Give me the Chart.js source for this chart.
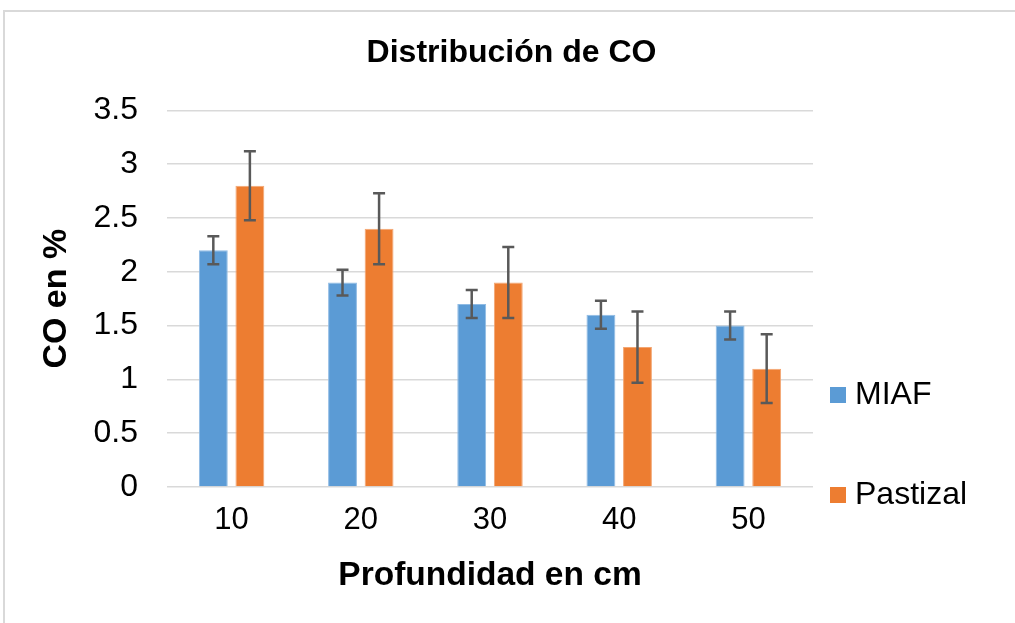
<!DOCTYPE html>
<html>
<head>
<meta charset="utf-8">
<script src="https://cdn.jsdelivr.net/npm/chart.js@4/dist/chart.umd.min.js"></script>
<style>
  html, body { margin: 0; padding: 0; background: #fff; }
  #wrap { position: relative; width: 1015px; height: 623px; }
  #frame {
    position: absolute; left: 3px; top: 10px; right: -2px; bottom: -2px;
    border-top: 2px solid #d9d9d9; border-left: 2px solid #d9d9d9;
    pointer-events: none;
  }
</style>
</head>
<body>
<div id="wrap">
  <canvas id="chart"></canvas>
  <div id="frame"></div>
</div>
<script>
const depths = ['10', '20', '30', '40', '50'];
const miaf = [2.2, 1.9, 1.7, 1.6, 1.5];
const miafErr = [0.13, 0.12, 0.13, 0.13, 0.13];
const pastizal = [2.8, 2.4, 1.9, 1.3, 1.1];
const pastizalErr = [0.32, 0.33, 0.33, 0.33, 0.32];

const FONT = '"Liberation Sans", Arial, sans-serif';

// error bars drawn from the y scale
const errorBars = {
    id: 'errorBars',
    afterDatasetsDraw(chart) {
        const { ctx, scales: { y } } = chart;
        ctx.save();
        ctx.strokeStyle = '#595959';
        ctx.lineWidth = 2.5;
        chart.data.datasets.forEach((ds, i) => {
            const meta = chart.getDatasetMeta(i);
            meta.data.forEach((bar, j) => {
                const v = ds.data[j], e = ds.errors[j];
                const top = y.getPixelForValue(v + e);
                const bot = y.getPixelForValue(v - e);
                const x = bar.x;
                ctx.beginPath();
                ctx.moveTo(x, top); ctx.lineTo(x, bot);
                ctx.moveTo(x - 6, top); ctx.lineTo(x + 6, top);
                ctx.moveTo(x - 6, bot); ctx.lineTo(x + 6, bot);
                ctx.stroke();
            });
        });
        ctx.restore();
    }
};

// legend on the right, spread out like the original
const sideLegend = {
    id: 'sideLegend',
    afterDraw(chart) {
        const { ctx, chartArea } = chart;
        const rows = [chartArea.bottom - 92, chartArea.bottom + 8];
        ctx.save();
        ctx.font = '32px ' + FONT;
        ctx.textBaseline = 'middle';
        chart.data.datasets.forEach((ds, i) => {
            const yy = rows[i];
            ctx.fillStyle = ds.backgroundColor;
            ctx.fillRect(chartArea.right + 17, yy - 8, 16, 16);
            ctx.fillStyle = '#000';
            ctx.fillText(ds.label, chartArea.right + 42, yy);
        });
        ctx.restore();
    }
};

const ctx = document.getElementById('chart').getContext('2d');
const chart = new Chart(ctx, {
    type: 'bar',
    data: {
        labels: depths,
        datasets: [
            {
                label: 'MIAF',
                data: miaf,
                errors: miafErr,
                backgroundColor: '#5b9bd5',
                borderColor: '#8fbbe4',
                borderWidth: 1,
                categoryPercentage: 0.566,
                barPercentage: 0.79
            },
            {
                label: 'Pastizal',
                data: pastizal,
                errors: pastizalErr,
                backgroundColor: '#ed7d31',
                borderColor: '#f3a672',
                borderWidth: 1,
                categoryPercentage: 0.566,
                barPercentage: 0.79
            }
        ]
    },
    options: {
        animation: false,
        responsive: true,
        maintainAspectRatio: false,
        layout: { padding: { left: 8, right: 0, top: 0, bottom: 0 } },
        plugins: {
            legend: { display: false },
            tooltip: { enabled: false },
            title: {
                display: true,
                text: 'Distribución de CO',
                color: '#000',
                font: { family: FONT, size: 32, weight: 'bold' },
                padding: { top: 34, bottom: 38 }
            }
        },
        scales: {
            x: {
                grid: { display: false, drawTicks: false },
                border: { display: false },
                ticks: { color: '#000', font: { family: FONT, size: 31 }, padding: 15 },
                title: {
                    display: true,
                    text: 'Profundidad en cm',
                    color: '#000',
                    font: { family: FONT, size: 33.5, weight: 'bold' },
                    padding: { top: 4, bottom: 27 }
                },
                afterFit(scale) { scale.height = 136; }
            },
            y: {
                min: 0,
                max: 3.5,
                ticks: {
                    stepSize: 0.5,
                    color: '#000',
                    font: { family: FONT, size: 32 },
                    padding: 29,
                    callback: (v) => String(v)
                },
                grid: { color: '#d9d9d9', lineWidth: 1.5, drawTicks: false },
                border: { display: false },
                title: {
                    display: true,
                    text: 'CO en %',
                    color: '#000',
                    font: { family: FONT, size: 34, weight: 'bold' },
                    padding: { top: 28, bottom: 4 }
                },
                afterFit(scale) { scale.width = 159; }
            },
            // empty box on the right that leaves room for the legend
            side: {
                type: 'linear',
                position: 'right',
                grid: { display: false, drawTicks: false },
                border: { display: false },
                ticks: { display: false },
                afterFit(scale) { scale.width = 202; }
            }
        }
    },
    plugins: [errorBars, sideLegend]
});
</script>
</body>
</html>
